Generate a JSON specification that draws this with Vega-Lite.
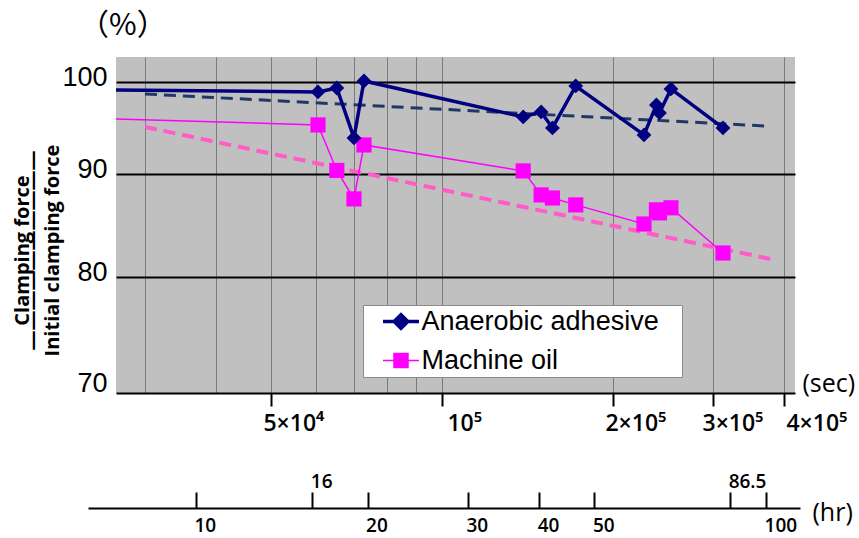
{
  "$schema": "https://vega.github.io/schema/vega-lite/v6.json",
  "autosize": "none",
  "width": 679,
  "height": 336,
  "padding": {"left": 116, "top": 57, "right": 64, "bottom": 145},
  "title": {"text": "（%）", "anchor": "start", "frame": "group", "font": "Noto Sans CJK JP", "fontSize": 30, "fontWeight": "normal", "color": "black", "dx": -37, "offset": 16},
  "datasets": {
    "measured": [
      {"series": "Anaerobic adhesive", "sec": 20000, "pct": 99.17},
      {"series": "Anaerobic adhesive", "sec": 60500, "pct": 98.86},
      {"series": "Anaerobic adhesive", "sec": 65300, "pct": 99.31},
      {"series": "Anaerobic adhesive", "sec": 70000, "pct": 93.78},
      {"series": "Anaerobic adhesive", "sec": 72900, "pct": 100.11},
      {"series": "Anaerobic adhesive", "sec": 139000, "pct": 96.07},
      {"series": "Anaerobic adhesive", "sec": 149500, "pct": 96.62},
      {"series": "Anaerobic adhesive", "sec": 156500, "pct": 94.86},
      {"series": "Anaerobic adhesive", "sec": 172000, "pct": 99.54},
      {"series": "Anaerobic adhesive", "sec": 226800, "pct": 94.11},
      {"series": "Anaerobic adhesive", "sec": 238500, "pct": 97.4},
      {"series": "Anaerobic adhesive", "sec": 241500, "pct": 96.51},
      {"series": "Anaerobic adhesive", "sec": 253000, "pct": 99.2},
      {"series": "Anaerobic adhesive", "sec": 312400, "pct": 94.86},
      {"series": "Machine oil", "sec": 20000, "pct": 96.08},
      {"series": "Machine oil", "sec": 60500, "pct": 95.19},
      {"series": "Machine oil", "sec": 65300, "pct": 90.35},
      {"series": "Machine oil", "sec": 70000, "pct": 87.45},
      {"series": "Machine oil", "sec": 72900, "pct": 93.03},
      {"series": "Machine oil", "sec": 139000, "pct": 90.3},
      {"series": "Machine oil", "sec": 149500, "pct": 87.85},
      {"series": "Machine oil", "sec": 156500, "pct": 87.54},
      {"series": "Machine oil", "sec": 172000, "pct": 86.85},
      {"series": "Machine oil", "sec": 226800, "pct": 84.97},
      {"series": "Machine oil", "sec": 238500, "pct": 86.36},
      {"series": "Machine oil", "sec": 241500, "pct": 86.06},
      {"series": "Machine oil", "sec": 253000, "pct": 86.56},
      {"series": "Machine oil", "sec": 312400, "pct": 82.19}
    ],
    "trend": [
      {"series": "Anaerobic adhesive", "sec": 30000, "pct": 98.63},
      {"series": "Anaerobic adhesive", "sec": 370500, "pct": 95.08},
      {"series": "Machine oil", "sec": 30000, "pct": 94.97},
      {"series": "Machine oil", "sec": 385800, "pct": 81.53}
    ],
    "hours": [{"hr": 10}, {"hr": 100}]
  },
  "layer": [
    {
      "encoding": {
        "x": {
          "field": "sec", "type": "quantitative",
          "scale": {"type": "log", "domain": [26680, 418300], "nice": false},
          "axis": {
            "orient": "bottom",
            "values": [30000, 40000, 50000, 60000, 70000, 80000, 90000, 100000, 200000, 300000, 400000],
            "grid": true, "gridColor": "#7a7a7a", "gridWidth": 1,
            "domain": true, "domainColor": "black", "domainWidth": 2,
            "ticks": true, "tickColor": "black", "tickWidth": 2, "tickSize": 13,
            "tickOpacity": {"condition": {"test": "indexof([50000,100000,200000,300000,400000], datum.value) >= 0", "value": 1}, "value": 0},
            "labelExpr": "datum.value == 50000 ? '5×10⁴' : datum.value == 100000 ? '10⁵' : datum.value == 200000 ? '2×10⁵' : datum.value == 300000 ? '3×10⁵' : datum.value == 400000 ? '4×10⁵' : ''",
            "labelAlign": "left",
            "labelOffset": {"condition": [
              {"test": "datum.value == 100000", "value": 5},
              {"test": "datum.value == 300000", "value": -11},
              {"test": "datum.value == 400000", "value": 2}
            ], "value": -8},
            "labelPadding": 6, "labelFlush": false, "labelOverlap": false,
            "labelFont": "Open Sans", "labelFontSize": 23, "labelFontWeight": 600, "labelColor": "black",
            "title": "(sec)", "titleX": 686, "titleY": -10, "titleAlign": "left", "titleBaseline": "middle", "titleAngle": 0,
            "titleFont": "Open Sans", "titleFontSize": 25, "titleFontWeight": "normal", "titleColor": "black"
          }
        },
        "y": {
          "field": "pct", "type": "quantitative",
          "scale": {"type": "log", "domain": [70, 102.9], "nice": false, "zero": false},
          "axis": {
            "values": [70, 80, 90, 100],
            "grid": true, "gridColor": "black", "gridWidth": 2,
            "gridOpacity": {"condition": {"test": "datum.value == 70", "value": 0}, "value": 1},
            "domain": false, "ticks": false,
            "labelFont": "Liberation Sans", "labelFontSize": 27, "labelColor": "black", "labelPadding": 9,
            "labelOffset": {"condition": {"test": "datum.value == 70", "value": -10}, "value": -4},
            "labelExpr": "'' + datum.value",
            "title": ["Clamping force", "——————————", "\u2800", "Initial clamping force"],
            "titleFont": "Open Sans", "titleFontSize": 20, "titleFontWeight": "bold", "titleColor": "black",
            "titleLineHeight": 10, "titleX": -94, "titleY": 193, "titleAlign": "center", "titleBaseline": "middle", "titleAngle": -90
          }
        },
        "color": {
          "field": "series", "type": "nominal",
          "scale": {"domain": ["Anaerobic adhesive", "Machine oil"], "range": ["#000080", "#ff00ff"]},
          "legend": {
            "orient": "none", "legendX": 247, "legendY": 248, "title": null, "direction": "vertical",
            "fillColor": "white", "strokeColor": "#8a8a8a", "padding": 3,
            "labelFont": "Liberation Sans", "labelFontSize": 27, "labelColor": "black", "labelLimit": 500,
            "labelBaseline": "middle",
            "symbolSize": 625, "symbolOffset": 21.5, "labelOffset": 7, "rowPadding": 10,
            "labelExpr": "datum.label + '\u2800'",
            "encode": {
              "symbols": {
                "update": {
                  "shape": {"signal": "datum.value === 'Anaerobic adhesive' ? 'M-1.44,0H1.44M0,-0.55L0.55,0L0,0.55L-0.55,0Z' : 'M-1.44,0H1.44M-0.56,-0.56H0.56V0.56H-0.56Z'"},
                  "fill": {"signal": "datum.value === 'Anaerobic adhesive' ? '#000080' : '#ff00ff'"},
                  "stroke": {"signal": "datum.value === 'Anaerobic adhesive' ? '#000080' : '#ff00ff'"},
                  "strokeWidth": {"signal": "datum.value === 'Anaerobic adhesive' ? 3.5 : 1.5"},
                  "opacity": {"value": 1}
                }
              }
            }
          }
        }
      },
      "layer": [
        {
          "data": {"name": "trend"},
          "transform": [{"filter": "datum.series === 'Anaerobic adhesive'"}],
          "mark": {"type": "line", "color": "#1f3864", "strokeWidth": 3, "strokeDash": [12, 7], "clip": true},
          "encoding": {"color": {"value": "#1f3864"}}
        },
        {
          "data": {"name": "trend"},
          "transform": [{"filter": "datum.series === 'Machine oil'"}],
          "mark": {"type": "line", "color": "#ff5cc8", "strokeWidth": 4, "strokeDash": [12, 7], "clip": true},
          "encoding": {"color": {"value": "#ff5cc8"}}
        },
        {
          "data": {"name": "measured"},
          "transform": [{"filter": "datum.series === 'Machine oil'"}],
          "mark": {"type": "line", "strokeWidth": 1.5, "clip": true}
        },
        {
          "data": {"name": "measured"},
          "transform": [{"filter": "datum.series === 'Anaerobic adhesive'"}],
          "mark": {"type": "line", "strokeWidth": 3.5, "clip": true}
        },
        {
          "data": {"name": "measured"},
          "transform": [{"filter": "datum.series === 'Machine oil'"}],
          "mark": {"type": "point", "shape": "square", "filled": true, "size": 230, "opacity": 1, "clip": true}
        },
        {
          "data": {"name": "measured"},
          "transform": [{"filter": "datum.series === 'Anaerobic adhesive'"}],
          "mark": {"type": "point", "shape": "diamond", "filled": true, "size": 220, "opacity": 1, "clip": true}
        }
      ]
    },
    {
      "data": {"name": "hours"},
      "mark": {"type": "point", "opacity": 0},
      "encoding": {
        "x": {
          "field": "hr", "type": "quantitative",
          "scale": {"type": "log", "domain": [6.465, 114.7], "range": [-28, 684], "nice": false},
          "axis": {
            "orient": "bottom", "offset": 115,
            "values": [10, 16, 20, 30, 40, 50, 86.5, 100],
            "grid": false,
            "domain": true, "domainColor": "black", "domainWidth": 2,
            "ticks": true, "tickColor": "black", "tickWidth": 2, "tickSize": -16,
            "labelExpr": "'' + datum.value",
            "labelAlign": "left", "labelOffset": -2,
            "labelBaseline": {"condition": {"test": "datum.value == 16 || datum.value == 86.5", "value": "alphabetic"}, "value": "top"},
            "labelPadding": {"condition": {"test": "datum.value == 16 || datum.value == 86.5", "value": -5}, "value": 24},
            "labelFlush": false, "labelOverlap": false,
            "labelFont": "Open Sans", "labelFontSize": 19, "labelFontWeight": 600, "labelColor": "black",
            "title": "(hr)", "titleX": 696, "titleY": 4, "titleAlign": "left", "titleBaseline": "middle", "titleAngle": 0,
            "titleFont": "Open Sans", "titleFontSize": 25, "titleFontWeight": "normal", "titleColor": "black"
          }
        }
      }
    }
  ],
  "resolve": {"scale": {"x": "independent"}, "axis": {"x": "independent"}},
  "config": {
    "view": {"fill": "#c0c0c0", "stroke": null},
    "font": "Liberation Sans"
  }
}
